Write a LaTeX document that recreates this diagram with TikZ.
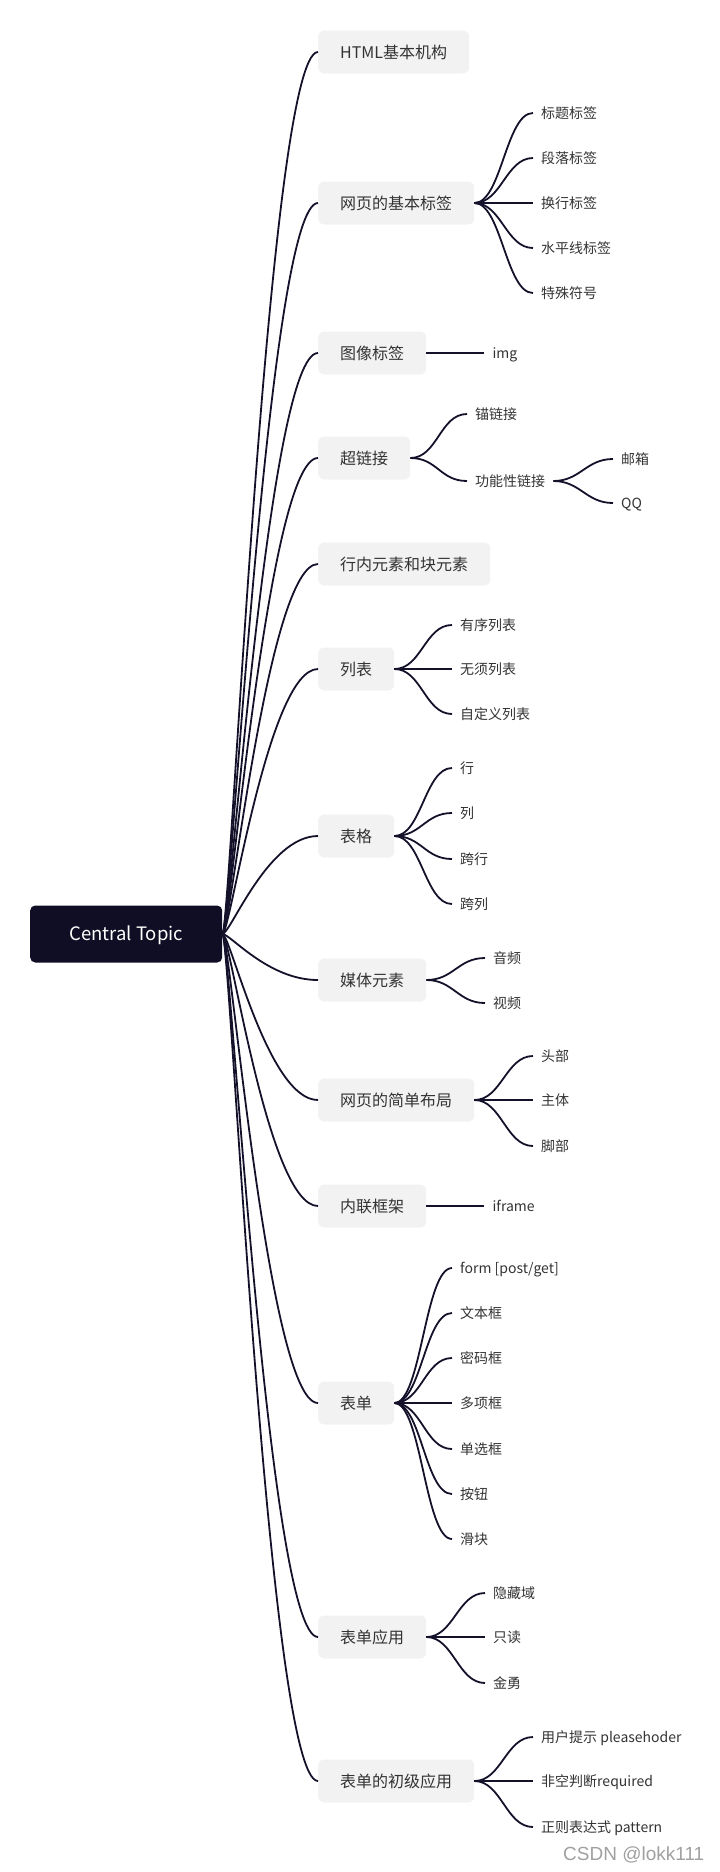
\documentclass[tikz,border=0pt]{standalone}
\usepackage{fontspec}
\setmainfont{Noto Sans CJK SC}
\newfontfamily\markfont{Liberation Sans}
\usetikzlibrary{calc,positioning}
\definecolor{mapdark}{HTML}{100E24}
\definecolor{mapline}{HTML}{14122B}
\definecolor{mapbox}{HTML}{F2F2F2}
\definecolor{maptext}{HTML}{333333}
\definecolor{mapmark}{HTML}{A0A0A0}

\tikzset{
  centre/.style={fill=mapdark, rounded corners=5pt, text=white, anchor=west,
    minimum width=192pt, minimum height=57pt, font=\fontsize{18.5}{22}\selectfont,
    text height=13pt, text depth=0pt},
  topic/.style={fill=mapbox, rounded corners=6pt, text=maptext, anchor=west,
    inner xsep=22pt, minimum height=43pt, font=\fontsize{16}{19}\selectfont,
    text height=14pt, text depth=2pt},
  leaf/.style={text=maptext, anchor=west, inner xsep=8pt, inner ysep=2pt,
    font=\fontsize{14}{17}\selectfont, text height=12pt, text depth=1.4pt},
  link/.style={draw=mapline, line width=1.8pt},
  mainlink/.style={link, to path={.. controls ($(\tikztostart)+(8,0)$)
    and ($(\tikztotarget)+(-50,0)$) .. (\tikztotarget)}},
  sublink/.style={link, to path={.. controls ($(\tikztostart)+(27,0)$)
    and ($(\tikztotarget)+(-27,0)$) .. (\tikztotarget)}},
}

\begin{document}
\begin{tikzpicture}[x=1pt, y=-1pt]
  \useasboundingbox (0,0) rectangle (720,1872);

  \node[centre] (ct) at (30,934) {Central Topic};

  \node[topic] (html) at (318,52) {HTML基本机构};
  \node[topic] (base) at (318,203) {网页的基本标签};
  \node[topic] (image) at (318,353) {图像标签};
  \node[topic] (href) at (318,458) {超链接};
  \node[topic] (inline) at (318,564) {行内元素和块元素};
  \node[topic] (list) at (318,669) {列表};
  \node[topic] (table) at (318,836) {表格};
  \node[topic] (media) at (318,980) {媒体元素};
  \node[topic] (layout) at (318,1100) {网页的简单布局};
  \node[topic] (frame) at (318,1206) {内联框架};
  \node[topic] (form) at (318,1403) {表单};
  \node[topic] (formuse) at (318,1637) {表单应用};
  \node[topic] (formbasic) at (318,1781) {表单的初级应用};

  \node[leaf] (base1) at (533,113) {标题标签};
  \node[leaf] (base2) at (533,158) {段落标签};
  \node[leaf] (base3) at (533,203) {换行标签};
  \node[leaf] (base4) at (533,248) {水平线标签};
  \node[leaf] (base5) at (533,293) {特殊符号};

  \node[leaf, right=58pt of image] (img) {img};

  \node[leaf] (href1) at (467,414) {锚链接};
  \node[leaf] (href2) at (467,481) {功能性链接};
  \node[leaf] (mail) at (613,459) {邮箱};
  \node[leaf] (qq) at (613,503) {QQ};

  \node[leaf] (list1) at (452,625) {有序列表};
  \node[leaf] (list2) at (452,669) {无须列表};
  \node[leaf] (list3) at (452,714) {自定义列表};

  \node[leaf] (table1) at (452,768) {行};
  \node[leaf] (table2) at (452,813) {列};
  \node[leaf] (table3) at (452,859) {跨行};
  \node[leaf] (table4) at (452,904) {跨列};

  \node[leaf] (media1) at (485,958) {音频};
  \node[leaf] (media2) at (485,1003) {视频};

  \node[leaf] (layout1) at (533,1056) {头部};
  \node[leaf] (layout2) at (533,1100) {主体};
  \node[leaf] (layout3) at (533,1146) {脚部};

  \node[leaf, right=58pt of frame] (iframe) {iframe};

  \node[leaf] (form1) at (452,1268) {form [post/get]};
  \node[leaf] (form2) at (452,1313) {文本框};
  \node[leaf] (form3) at (452,1358) {密码框};
  \node[leaf] (form4) at (452,1403) {多项框};
  \node[leaf] (form5) at (452,1449) {单选框};
  \node[leaf] (form6) at (452,1494) {按钮};
  \node[leaf] (form7) at (452,1539) {滑块};

  \node[leaf] (formuse1) at (485,1593) {隐藏域};
  \node[leaf] (formuse2) at (485,1637) {只读};
  \node[leaf] (formuse3) at (485,1683) {金勇};

  \node[leaf] (formbasic1) at (533,1737) {用户提示 pleasehoder};
  \node[leaf] (formbasic2) at (533,1781) {非空判断required};
  \node[leaf] (formbasic3) at (533,1827) {正则表达式 pattern};

  \node[anchor=west, inner sep=0pt, text=mapmark, font=\markfont\fontsize{19}{22}\selectfont]
    (mark) at (563,1855) {CSDN @lokk111};

  \foreach \t in {html,base,image,href,inline,list,table,media,layout,frame,form,formuse,formbasic}
    \draw[mainlink] (ct.east) to (\t.west);

  \foreach \l in {base1,base2,base3,base4,base5}
    \draw[sublink] (base.east) to (\l.west);
  \draw[link] (image.east) -- (img.west);
  \draw[sublink] (href.east) to (href1.west);
  \draw[sublink] (href.east) to (href2.west);
  \draw[sublink] (href2.east) to (mail.west);
  \draw[sublink] (href2.east) to (qq.west);
  \foreach \l in {list1,list2,list3}
    \draw[sublink] (list.east) to (\l.west);
  \foreach \l in {table1,table2,table3,table4}
    \draw[sublink] (table.east) to (\l.west);
  \foreach \l in {media1,media2}
    \draw[sublink] (media.east) to (\l.west);
  \foreach \l in {layout1,layout2,layout3}
    \draw[sublink] (layout.east) to (\l.west);
  \draw[link] (frame.east) -- (iframe.west);
  \foreach \l in {form1,form2,form3,form4,form5,form6,form7}
    \draw[sublink] (form.east) to (\l.west);
  \foreach \l in {formuse1,formuse2,formuse3}
    \draw[sublink] (formuse.east) to (\l.west);
  \foreach \l in {formbasic1,formbasic2,formbasic3}
    \draw[sublink] (formbasic.east) to (\l.west);
\end{tikzpicture}
\end{document}
